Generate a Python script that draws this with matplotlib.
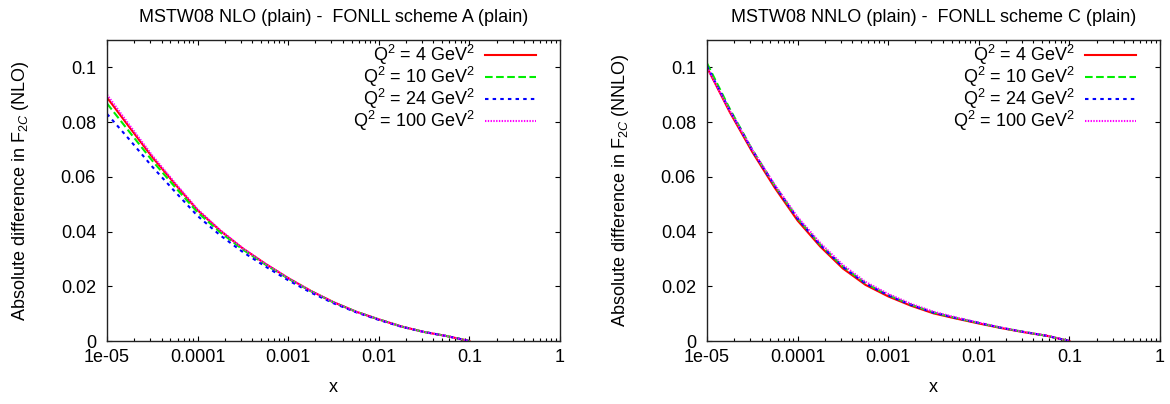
import matplotlib.pyplot as plt
import numpy as np

plt.rcParams['font.family'] = ['Liberation Sans', 'DejaVu Sans']
plt.rcParams['mathtext.fontset'] = 'custom'
plt.rcParams['mathtext.rm'] = 'Liberation Sans'
plt.rcParams['mathtext.it'] = 'Liberation Sans:italic'
plt.rcParams['lines.scale_dashes'] = False

# Data
x = [1e-5, 1.78e-5, 3.16e-5, 5.62e-5, 1e-4, 1.78e-4, 3.16e-4, 5.62e-4, 1e-3,
     1.78e-3, 3.16e-3, 5.62e-3, 1e-2, 1.78e-2, 3.16e-2, 5.62e-2, 0.1]

# left panel: MSTW08 NLO - FONLL A
nlo_q4 = [0.0890, 0.0780, 0.0672, 0.0574, 0.0478, 0.0403, 0.0338, 0.0282, 0.0230,
          0.0183, 0.0142, 0.0107, 0.0079, 0.0053, 0.0033, 0.0018, 0.0000]
nlo_q10 = [0.0868, 0.0763, 0.0659, 0.0563, 0.0470, 0.0397, 0.0334, 0.0279, 0.0228,
           0.0182, 0.0141, 0.0107, 0.0079, 0.0053, 0.0033, 0.0018, 0.0000]
nlo_q24 = [0.0830, 0.0735, 0.0637, 0.0546, 0.0457, 0.0386, 0.0325, 0.0272, 0.0222,
           0.0177, 0.0138, 0.0105, 0.0077, 0.0052, 0.0033, 0.0018, 0.0000]
nlo_q100 = [0.0900, 0.0788, 0.0678, 0.0578, 0.0481, 0.0405, 0.0339, 0.0282, 0.0230,
            0.0183, 0.0142, 0.0107, 0.0079, 0.0053, 0.0033, 0.0018, 0.0000]

# right panel: MSTW08 NNLO - FONLL C
nnlo_q4 = [0.1000, 0.0837, 0.0691, 0.0559, 0.0440, 0.0345, 0.0265, 0.0205, 0.0163,
           0.0129, 0.0101, 0.0082, 0.0064, 0.0047, 0.0032, 0.0019, 0.0000]
nnlo_q10 = [0.1015, 0.0849, 0.0699, 0.0567, 0.0448, 0.0352, 0.0272, 0.0211, 0.0168,
            0.0133, 0.0104, 0.0084, 0.0066, 0.0048, 0.0033, 0.0019, 0.0000]
nnlo_q24 = [0.1005, 0.0843, 0.0697, 0.0566, 0.0447, 0.0351, 0.0271, 0.0210, 0.0167,
            0.0132, 0.0104, 0.0084, 0.0066, 0.0048, 0.0033, 0.0019, 0.0000]
nnlo_q100 = [0.1000, 0.0842, 0.0699, 0.0570, 0.0453, 0.0358, 0.0278, 0.0216, 0.0172,
             0.0136, 0.0107, 0.0086, 0.0067, 0.0049, 0.0033, 0.0020, 0.0000]

labels = [r'Q$^2$ = 4 GeV$^2$', r'Q$^2$ = 10 GeV$^2$',
          r'Q$^2$ = 24 GeV$^2$', r'Q$^2$ = 100 GeV$^2$']
colors = ['#ff0000', '#00ee00', '#0000ff', '#ff00ff']
styles = ['-', (0, (5.5, 2.5)), (0, (2.5, 3.0)), (0, (1.0, 1.0))]

titles = ['MSTW08 NLO (plain) -  FONLL scheme A (plain)',
          'MSTW08 NNLO (plain) -  FONLL scheme C (plain)']
ylabels = [r'Absolute difference in F$_{2C}$ (NLO)',
           r'Absolute difference in F$_{2C}$ (NNLO)']
xticks = [1e-5, 1e-4, 1e-3, 1e-2, 1e-1, 1]
xticklabels = ['1e-05', '0.0001', '0.001', '0.01', '0.1', '1']
yticks = [0, 0.02, 0.04, 0.06, 0.08, 0.1]
yticklabels = ['0', '0.02', '0.04', '0.06', '0.08', '0.1']

fs = 13
fig = plt.figure(figsize=(11.7, 4.04), dpi=100)
panels = [[nlo_q4, nlo_q10, nlo_q24, nlo_q100],
          [nnlo_q4, nnlo_q10, nnlo_q24, nnlo_q100]]
lefts = [107 / 1170, 707 / 1170]

for i in range(2):
    ax = fig.add_axes([lefts[i], 63 / 404, 453 / 1170, 301 / 404])
    for ys, lab, c, ls in zip(panels[i], labels, colors, styles):
        ax.plot(x, ys, color=c, linestyle=ls, linewidth=1.5, label=lab)
    ax.set_xscale('log')
    ax.set_xlim(1e-5, 1)
    ax.set_ylim(0, 0.11)
    ax.set_xticks(xticks)
    ax.set_xticklabels(xticklabels, fontsize=fs)
    ax.set_yticks(yticks)
    ax.set_yticklabels(yticklabels, fontsize=fs)
    ax.tick_params(which='both', direction='in', top=True, right=True)
    ax.tick_params(which='major', length=3.5, width=0.8)
    ax.tick_params(which='minor', length=2, width=0.8)
    ax.tick_params(axis='y', pad=8)
    ax.tick_params(axis='x', pad=6)
    for sp in ax.spines.values():
        sp.set_linewidth(1.0)
        sp.set_color('#222222')
    ax.set_title(titles[i], fontsize=fs, pad=13)
    ax.set_xlabel('x', fontsize=fs, labelpad=9)
    ax.set_ylabel(ylabels[i], fontsize=fs, labelpad=21)
    ax.legend(loc='upper right', frameon=False, markerfirst=False, fontsize=fs,
              handlelength=2.8, labelspacing=-0.12, handletextpad=0.6,
              borderaxespad=0, borderpad=0, bbox_to_anchor=(0.947, 0.99))

plt.savefig('out.png', dpi=100)
